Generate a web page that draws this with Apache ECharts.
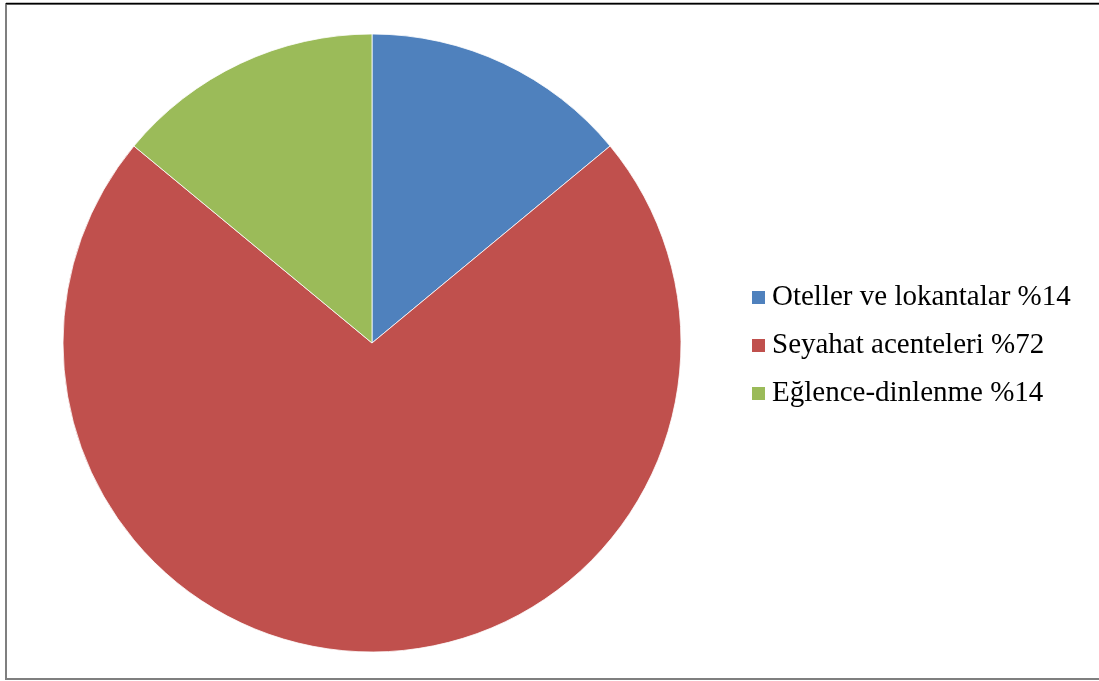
<!DOCTYPE html>
<html>
<head>
<meta charset="utf-8">
<script src="https://cdn.jsdelivr.net/npm/echarts@6/dist/echarts.min.js"></script>
<style>html,body{margin:0;padding:0;background:#fff;}#c{width:1099px;height:681px;}</style>
</head>
<body>
<div id="c"></div>
<script>
const categories = ['Oteller ve lokantalar', 'Seyahat acenteleri', 'Eğlence-dinlenme'];
const values = [14, 72, 14];
const colors = ['#4F81BD', '#C0504D', '#9BBB59'];

const chart = echarts.init(document.getElementById('c'));
chart.setOption({
  backgroundColor: '#fff',
  animation: false,
  graphic: [
    { type: 'rect', shape: { x: 6, y: 4, width: 1100, height: 675 }, style: { fill: 'none', stroke: '#7f7f7f', lineWidth: 2 }, z: 0 },
    { type: 'line', shape: { x1: 6, y1: 3.5, x2: 1099, y2: 3.5 }, style: { stroke: '#000', lineWidth: 1.5 }, z: 1 }
  ],
  legend: {
    orient: 'vertical',
    left: 750,
    top: 281,
    padding: 0,
    itemWidth: 15,
    itemHeight: 15,
    itemGap: 15,
    icon: 'rect',
    formatter: function (name) {
      const i = categories.indexOf(name);
      return name + ' %' + values[i];
    },
    textStyle: { fontFamily: 'Liberation Serif', fontSize: 29, color: '#000', lineHeight: 33, padding: [0, 0, 0, 1] }
  },
  series: [{
    type: 'pie',
    center: [372, 343],
    radius: 309,
    startAngle: 90,
    clockwise: true,
    label: { show: false },
    labelLine: { show: false },
    emphasis: { disabled: true },
    itemStyle: { borderColor: '#fff', borderWidth: 0.8 },
    data: categories.map((n, i) => ({ name: n, value: values[i], itemStyle: { color: colors[i] } }))
  }]
});
</script>
</body>
</html>
